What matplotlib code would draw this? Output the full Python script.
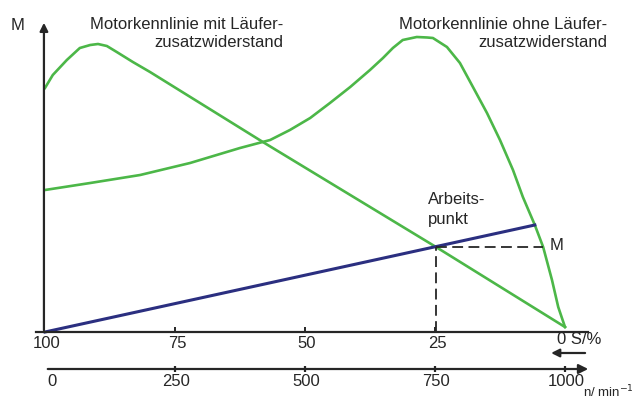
import matplotlib
matplotlib.use('Agg')
import matplotlib.pyplot as plt

plt.rcParams['font.family'] = ['Liberation Sans', 'DejaVu Sans']

# Speed n in 1/min, torque M in relative units
n_mit = [0, 15, 42, 67, 87, 102, 119, 138, 169, 202, 419, 752, 1000]
M_mit = [2.44, 2.57, 2.72, 2.84, 2.87, 2.88, 2.86, 2.80, 2.70, 2.60, 1.90, 0.85, 0.05]

n_ohne = [0, 87, 183, 279, 375, 433, 471, 510, 548, 587, 625, 650, 669, 688, 715,
          735, 746, 773, 798, 823, 850, 875, 900, 919, 942, 958, 975, 987, 1000]
M_ohne = [1.42, 1.49, 1.57, 1.69, 1.84, 1.92, 2.02, 2.14, 2.29, 2.45, 2.62, 2.74,
          2.84, 2.92, 2.95, 2.945, 2.94, 2.85, 2.69, 2.45, 2.19, 1.92, 1.62, 1.35,
          1.07, 0.85, 0.52, 0.25, 0.05]

n_last = [0, 942]
M_last = [0.0, 1.07]

# working point
n_ap = 752
M_ap = 0.85

n_ticks = [0, 250, 500, 750, 1000]
s_labels = ['100', '75', '50', '25', '']
n_labels = ['0', '250', '500', '750', '1000']

green = '#4cb748'
blue = '#2b2f80'
dark = '#262626'

fig = plt.figure(figsize=(6.33, 4.01), dpi=100)
ax = fig.add_axes([0, 0, 1, 1])
ax.set_xlim(-86.5, 1130.8)
ax.set_ylim(-0.69, 3.32)
ax.axis('off')

# curves
ax.plot(n_mit, M_mit, color=green, lw=1.9, solid_joinstyle='round')
ax.plot(n_ohne, M_ohne, color=green, lw=1.9, solid_joinstyle='round')
ax.plot(n_last, M_last, color=blue, lw=2.2)

# dashed guide lines
ax.plot([n_ap, n_ap], [0, M_ap], color=dark, lw=1.3, ls=(0, (6, 3)))
ax.plot([n_ap, 958], [M_ap, M_ap], color=dark, lw=1.3, ls=(0, (6, 3)))

# axes
ax.annotate('', xy=(-2, 3.12), xytext=(-2, -0.01),
            arrowprops=dict(arrowstyle='-|>', color=dark, lw=1.6, mutation_scale=12))
ax.plot([-17, 1044], [0, 0], color=dark, lw=1.6)
ax.annotate('', xy=(1050, -0.37), xytext=(0, -0.37),
            arrowprops=dict(arrowstyle='-|>', color=dark, lw=1.6, mutation_scale=14))
ax.annotate('', xy=(968, -0.21), xytext=(1044, -0.21),
            arrowprops=dict(arrowstyle='-|>', color=dark, lw=1.6, mutation_scale=12))

# tick marks
ax.plot(n_ticks[1:4], [0.02] * 3, ls='none', marker='|', color=dark, ms=4, mew=1.4)
ax.plot(n_ticks[1:], [-0.37] * 4, ls='none', marker='|', color=dark, ms=4, mew=1.6)

fs = 12
for n, lab in zip(n_ticks, s_labels):
    ax.text(n + 4, -0.11, lab, ha='center', va='center', fontsize=fs, color=dark)
for i, (n, lab) in enumerate(zip(n_ticks, n_labels)):
    dx = 13 if i == 0 else 2
    ax.text(n + dx, -0.495, lab, ha='center', va='center', fontsize=fs, color=dark)

ax.text(985, -0.08, '0 S/%', ha='left', va='center', fontsize=fs, color=dark)
ax.text(1034, -0.605, 'n/ min$^{-1}$', ha='left', va='center', fontsize=9.5, color=dark)

ax.text(-52, 3.07, 'M', ha='center', va='center', fontsize=fs, color=dark)
ax.text(971, 0.86, 'M', ha='left', va='center', fontsize=fs, color=dark)

ax.text(458, 2.985, 'Motorkennlinie mit Läufer-\nzusatzwiderstand', ha='right',
        va='center', multialignment='right', fontsize=fs, color=dark, linespacing=1.3)
ax.text(1081, 2.985, 'Motorkennlinie ohne Läufer-\nzusatzwiderstand', ha='right',
        va='center', multialignment='right', fontsize=fs, color=dark, linespacing=1.3)
ax.text(736, 1.225, 'Arbeits-\npunkt', ha='left', va='center', fontsize=fs,
        color=dark, linespacing=1.45)

fig.savefig('out.png', dpi=100)
